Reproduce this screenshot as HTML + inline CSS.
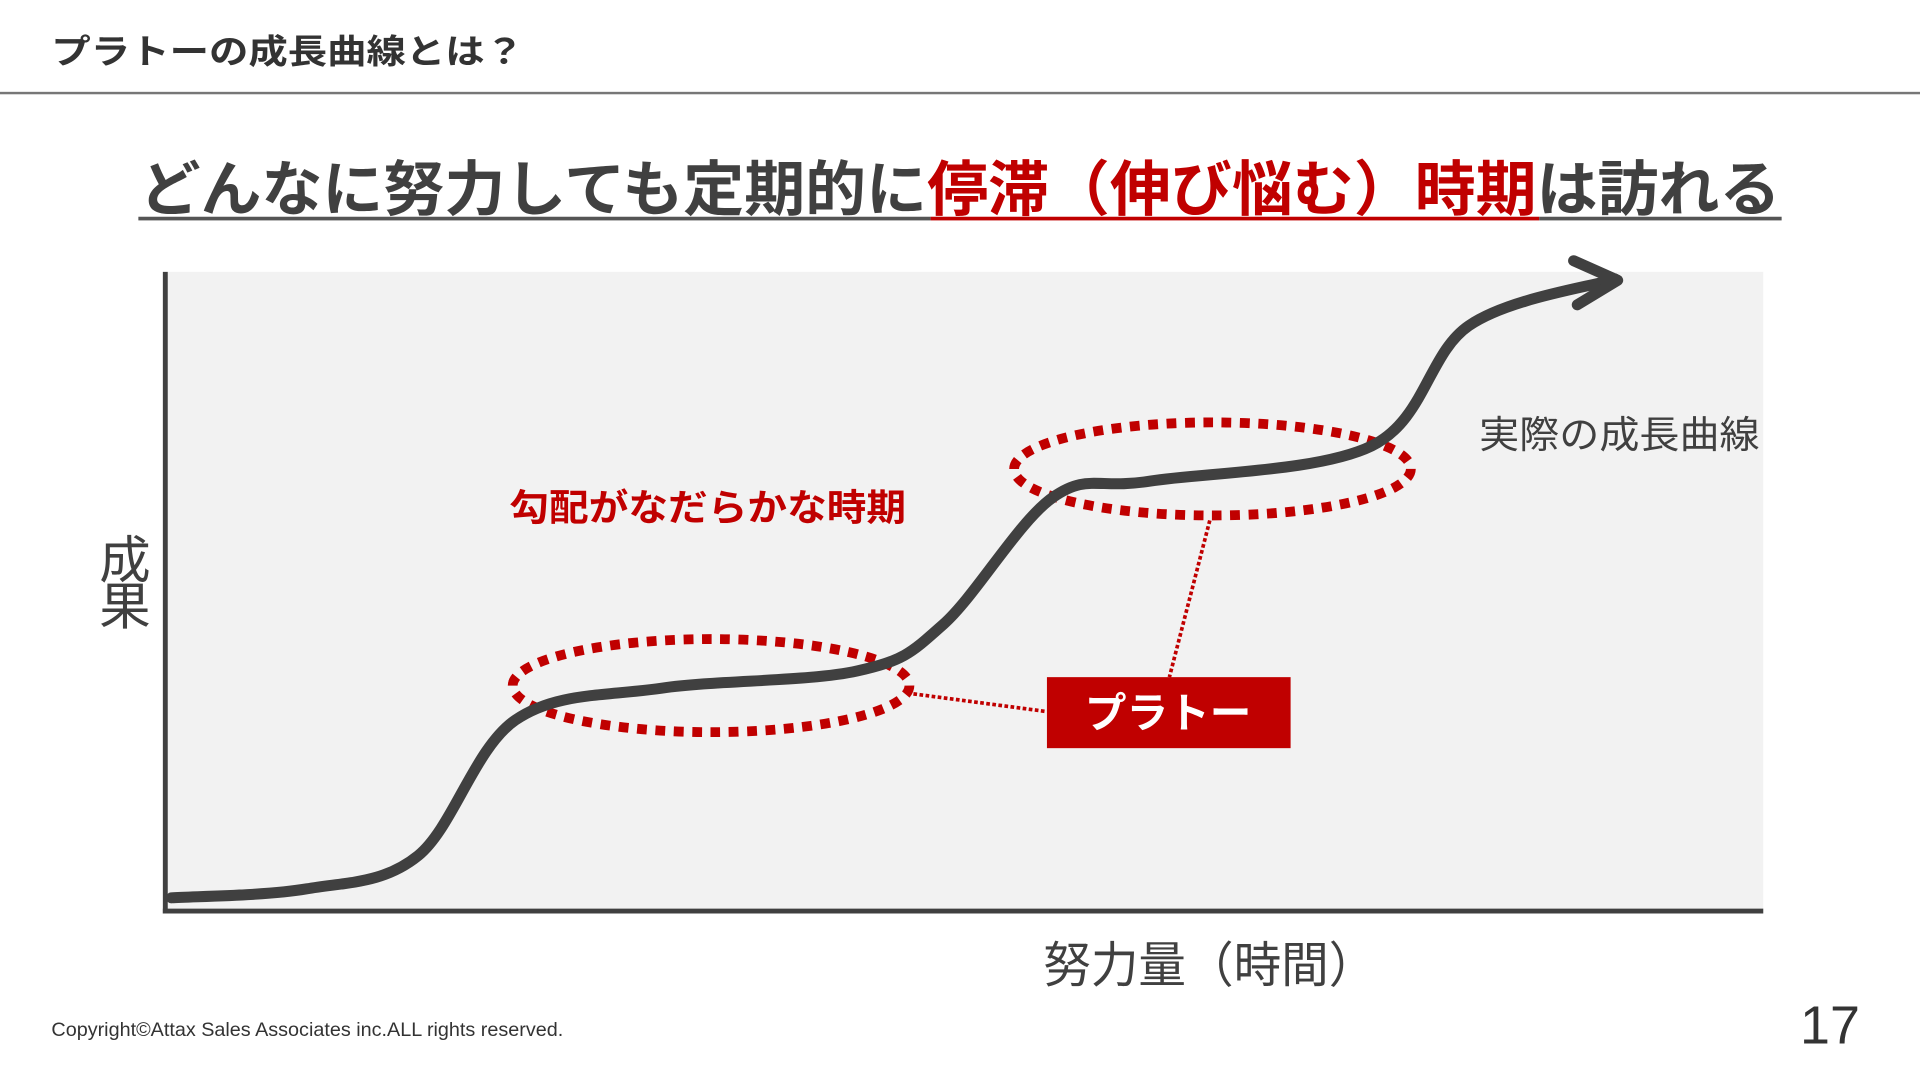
<!DOCTYPE html>
<html><head><meta charset="utf-8"><style>
html,body{margin:0;padding:0;background:#fff;width:1920px;height:1080px;overflow:hidden}
svg{display:block}
text{font-family:"Liberation Sans","Noto Sans CJK JP",sans-serif}
</style></head><body>
<svg id="chart" width="1920" height="1080" viewBox="0 0 1568 882" preserveAspectRatio="none" xmlns="http://www.w3.org/2000/svg">
<text x="42" y="52" font-size="28" font-weight="bold" fill="#333" textLength="386" lengthAdjust="spacingAndGlyphs">プラトーの成長曲線とは？</text>
<rect x="0" y="75" width="1568" height="2" fill="#777"/>
<text x="784" y="172" font-size="49" font-weight="bold" fill="#404040" text-anchor="middle" textLength="1340" lengthAdjust="spacingAndGlyphs">どんなに努力しても定期的に<tspan fill="#c00000">停滞（伸び悩む）時期</tspan>は訪れる</text>
<rect x="113" y="177" width="647" height="3" fill="#555"/>
<rect x="760" y="177" width="497" height="3" fill="#c00000"/>
<rect x="1257" y="177" width="198" height="3" fill="#555"/>
<rect x="135" y="222" width="1305" height="522" fill="#f2f2f2"/>
<g id="marks"></g>
<line x1="135" y1="222" x2="135" y2="746" stroke="#404040" stroke-width="4"/>
<line x1="133" y1="744" x2="1440" y2="744" stroke="#404040" stroke-width="4"/>
<text x="102" y="472" font-size="42" fill="#404040" text-anchor="middle">成</text>
<text x="102" y="510" font-size="42" fill="#404040" text-anchor="middle">果</text>
<text x="852" y="802" font-size="40" fill="#404040" textLength="272" lengthAdjust="spacingAndGlyphs">努力量（時間）</text>
<text x="1208" y="366" font-size="31" fill="#404040" textLength="229" lengthAdjust="spacingAndGlyphs">実際の成長曲線</text>
<text x="416" y="425" font-size="30" font-weight="bold" fill="#c00000" textLength="324" lengthAdjust="spacingAndGlyphs">勾配がなだらかな時期</text>
<line x1="741" y1="566" x2="854" y2="581" stroke="#c00000" stroke-width="3" stroke-dasharray="3 2"/>
<line x1="988" y1="425" x2="955" y2="553" stroke="#c00000" stroke-width="3" stroke-dasharray="3 2"/>
<rect x="855" y="553" width="199" height="58" fill="#c00000"/>
<text x="954" y="594" font-size="34" font-weight="bold" fill="#fff" text-anchor="middle">プラトー</text>
<text x="42" y="846" font-size="16" fill="#333" textLength="418" lengthAdjust="spacingAndGlyphs">Copyright©Attax Sales Associates inc.ALL rights reserved.</text>
<text x="1470" y="852" font-size="44" fill="#333">17</text>
</svg>
<script>
// effort (x) and growth (y) of the conceptual curve, in axis units (0-100)
const effort = [0, 8.5, 15.5, 21.6, 30.8, 43.1, 48.5, 55.4, 61.5, 75.4, 81.5, 90.7];
const growth = [1.3, 2.7, 7.9, 29.1, 34.1, 36.8, 44.1, 64.0, 66.5, 72.0, 90.8, 98.1];
const plateauCenterX = [33.9, 65.4];
const plateauCenterY = [34.5, 68.4];
const X0 = 140, X1 = 1440, Y0 = 740, Y1 = 218;
const sx = v => X0 + (X1 - X0) * v / 100;
const sy = v => Y0 - (Y0 - Y1) * v / 100;
const NS = 'http://www.w3.org/2000/svg';
const g = document.getElementById('marks');
const pts = effort.map((e, i) => [sx(e), sy(growth[i])]);
let d = 'M' + pts[0][0] + ',' + pts[0][1];
for (let i = 0; i < pts.length - 1; i++) {
  const p0 = pts[i - 1] || pts[i], p1 = pts[i], p2 = pts[i + 1], p3 = pts[i + 2] || p2;
  const c1 = [p1[0] + (p2[0] - p0[0]) / 6, p1[1] + (p2[1] - p0[1]) / 6];
  const c2 = [p2[0] - (p3[0] - p1[0]) / 6, p2[1] - (p3[1] - p1[1]) / 6];
  d += ' C' + c1 + ' ' + c2 + ' ' + p2;
}
plateauCenterX.forEach((cx, i) => {
  const el = document.createElementNS(NS, 'ellipse');
  
  
  el.setAttribute('cx', sx(cx)); el.setAttribute('cy', sy(plateauCenterY[i]));
  el.setAttribute('rx', 162); el.setAttribute('ry', 38);
  el.setAttribute('fill', 'none'); el.setAttribute('stroke', '#c00000');
  el.setAttribute('stroke-width', 8); el.setAttribute('stroke-dasharray', '8 7');
  g.appendChild(el);
});
const path = document.createElementNS(NS, 'path');


path.setAttribute('d', d);
path.setAttribute('fill', 'none'); path.setAttribute('stroke', '#404040');
path.setAttribute('stroke-width', 9); path.setAttribute('stroke-linecap', 'round');
g.appendChild(path);
const last = pts[pts.length - 1];
const head = document.createElementNS(NS, 'polyline');


head.setAttribute('points', (last[0] - 34) + ',' + (last[1] - 15) + ' ' + (last[0] + 2) + ',' + (last[1] + 1) + ' ' + (last[0] - 31) + ',' + (last[1] + 21));
head.setAttribute('fill', 'none'); head.setAttribute('stroke', '#404040');
head.setAttribute('stroke-width', 9); head.setAttribute('stroke-linecap', 'round'); head.setAttribute('stroke-linejoin', 'round');
g.appendChild(head);
</script>
</body></html>
